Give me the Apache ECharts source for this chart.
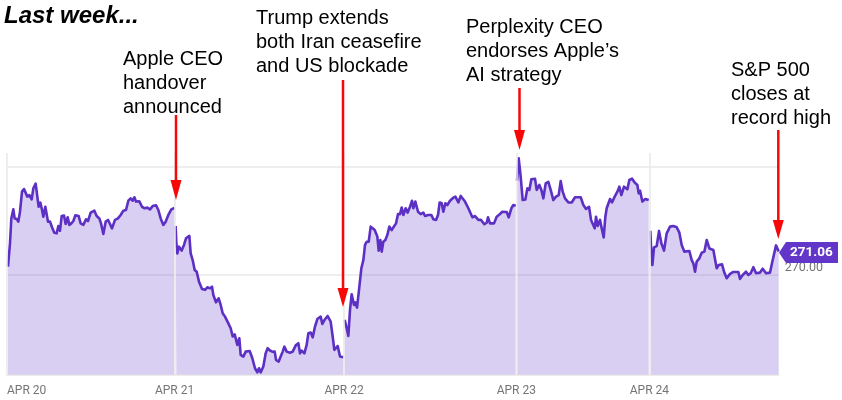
<!DOCTYPE html>
<html><head><meta charset="utf-8">
<style>html,body{margin:0;padding:0;background:#fff}#c{width:842px;height:400px}</style>
<script src="https://cdn.jsdelivr.net/npm/echarts@6/dist/echarts.min.js"></script>
</head><body><div id="c"></div>
<script>
// Time position within the week (arbitrary session units), price in USD. null marks the overnight gaps.
const sessionTime=[24,30,34,40,44,50,55,60,66,72,77,82,88,95,100,107,112,116,121,125,130,136,140,144,150,156,163,170,175,180,185,192,197,203,208,214,220,226,236,242,250,258,264,272,283,290,298,303,310,317,324,330,336,345,354,362,370,378,385,392,398,403,408,418,426,434,442,450,458,468,475,482,490,497,505,514,523,525,
527,529,532,537,545,552,558,568,572,578,584,590,597,606,615,622,630,636,640,648,656,662,668,675,684,692,698,704,712,718,722,730,737,749,757,765,772,777,782,790,797,803,810,818,824,828,836,842,848,853,860,870,878,888,895,900,905,913,920,925,932,938,945,952,962,967,975,983,992,998,1003,1013,1020,1030,1032,
1034,1040,1045,1050,1055,1062,1066,1071,1077,1084,1090,1095,1100,1106,1112,1117,1124,1132,1136,1141,1145,1150,1156,1162,1168,1175,1188,1194,1200,1205,1210,1217,1223,1230,1236,1240,1246,1254,1262,1270,1275,1285,1294,1300,1308,1314,1319,1325,1330,1336,1342,1350,1360,1366,1375,1382,1387,1395,1405,1417,1425,1435,1443,1453,1460,1464,1470,1482,1490,1500,1506,1520,1526,1534,1540,1547,1549,
1551,1556,1562,1568,1576,1582,1588,1594,1605,1610,1618,1624,1630,1637,1645,1652,1660,1668,1676,1682,1688,1695,1705,1715,1725,1735,1742,1750,1758,1767,1773,1778,1784,1788,1793,1800,1805,1811,1816,1820,1830,1836,1844,1852,1858,1864,1872,1882,1888,1896,1904,1912,1916,1920,1927,1936,1946,1948,
1951,1953,1957,1962,1970,1977,1984,1992,2000,2010,2020,2030,2038,2045,2053,2058,2068,2075,2080,2085,2090,2098,2105,2113,2120,2128,2140,2150,2156,2166,2172,2180,2185,2190,2200,2215,2220,2228,2238,2245,2252,2260,2268,2280,2288,2298,2310,2317,2328,2336];
const prices=[270.36,271.44,272.59,273.01,272.59,272.56,272.44,272.90,273.83,273.95,273.95,273.60,273.67,273.47,273.98,274.20,273.60,273.13,273.32,273.06,272.67,273.13,273.18,272.44,272.44,272.18,271.93,271.90,272.24,272.02,272.70,272.72,272.33,272.64,272.29,272.36,272.47,272.73,272.70,272.36,272.29,272.55,272.47,272.86,272.95,272.70,272.59,272.36,271.87,272.44,272.52,272.33,272.13,272.52,272.59,272.75,272.95,272.98,273.41,273.52,273.41,273.57,273.37,273.38,273.13,273.06,273.09,273.01,273.16,273.20,272.98,272.59,272.29,272.44,272.75,273.01,273.07,null,
272.24,271.44,270.97,271.28,271.10,271.36,271.67,271.78,270.97,270.66,270.20,270.12,269.66,269.32,269.28,269.40,269.35,269.43,269.04,268.70,268.89,268.58,268.20,268.04,267.76,267.50,267.12,267.22,266.73,267.04,266.27,266.19,266.42,266.45,266.11,265.65,265.46,265.65,265.46,265.73,266.34,266.58,266.47,266.41,266.42,266.04,265.96,266.19,266.42,266.65,266.42,266.37,266.42,266.73,266.81,266.34,266.47,266.34,266.73,267.27,267.30,267.08,267.58,267.93,268.04,267.70,267.92,268.07,267.81,267.12,266.50,266.68,266.19,266.16,null,
267.89,267.50,267.15,268.35,269.08,268.58,268.70,268.46,269.28,270.28,270.66,271.36,271.51,271.51,272.21,272.29,272.05,271.75,271.10,271.59,271.05,271.51,271.59,271.82,272.21,272.05,272.36,272.79,272.79,273.09,272.75,273.06,272.86,273.13,273.41,273.06,273.37,272.90,272.79,272.86,272.70,272.75,272.75,272.55,272.52,272.75,273.33,273.29,272.90,273.29,273.21,273.41,273.55,273.60,273.33,273.63,273.63,273.37,273.06,272.64,272.70,272.52,272.52,272.32,272.39,272.64,272.36,272.36,272.67,272.79,272.90,272.89,272.64,273.06,273.21,273.18,null,
274.34,275.37,274.52,273.44,273.47,273.98,273.91,274.40,274.43,273.91,274.14,273.91,273.52,274.21,274.28,273.91,273.44,273.60,273.67,274.32,273.83,273.52,273.33,273.33,273.57,273.57,273.57,273.21,273.03,273.13,272.52,272.44,272.13,272.67,272.24,272.52,272.13,271.71,272.67,273.06,273.49,273.33,273.60,273.83,274.06,273.67,274.06,273.94,274.37,274.43,274.25,274.14,273.75,273.87,273.37,273.49,273.44,null,
272.02,271.28,270.43,271.25,271.31,272.01,271.44,271.10,271.90,272.21,272.24,272.18,271.93,271.36,271.05,271.13,271.08,270.66,270.51,270.12,270.59,270.74,271.00,271.05,271.59,271.20,271.13,270.28,270.43,270.46,270.12,269.82,269.77,270.02,270.11,270.11,269.79,269.97,270.12,269.97,270.05,270.33,270.05,270.08,270.26,270.05,270.08,270.59,271.34,271.06];
const dayStarts=[21,523.5,1032,1549,1948];
const dayLabels=['APR 20','APR 21','APR 22','APR 23','APR 24'];
const priceGrid=[270,275];
const priceLabels=[270];
const lastPriceLabel='271.06';
const title='Last week...';
const notes=['Apple CEO\nhandover\nannounced','Trump extends\nboth Iran ceasefire\nand US blockade','Perplexity CEO\nendorses Apple’s\nAI strategy','S&P 500\ncloses at\nrecord high'];

const PURPLE='#5c30c4', GRID='#e8e8e8', SANS='"Liberation Sans",Arial,sans-serif';
const noteText=(s,x,y)=>({type:'text',left:x,top:y,z:20,style:{text:s,font:'20px '+SANS,lineHeight:23.6,fill:'#000'}});
const arrow=(x,y0,yHead,tip,hw)=>[
 {type:'line',z:20,shape:{x1:x,y1:y0,x2:x,y2:yHead+1},style:{stroke:'#f60808',lineWidth:2.5}},
 {type:'polygon',z:20,shape:{points:[[x-hw,yHead],[x+hw,yHead],[x,tip]]},style:{fill:'#f60808'}}
];
const chart=echarts.init(document.getElementById('c'),null,{renderer:'canvas'});
chart.setOption({
 animation:false,
 grid:{left:7,right:842-778.7,top:153,bottom:400-374.5},
 xAxis:{type:'value',min:21,max:2336,splitLine:{show:false},
  axisLine:{show:true,lineStyle:{color:GRID,width:1.5}},axisTick:{show:false},
  axisLabel:{customValues:dayStarts,alignMinLabel:'left',margin:10,color:'#757575',fontFamily:'Roboto',fontSize:12,
   formatter:v=>dayLabels[dayStarts.indexOf(v)]||''}},
 yAxis:{type:'value',position:'right',min:265.36,max:275.62,splitLine:{show:false},
  axisLine:{show:false},axisTick:{show:false},
  axisLabel:{customValues:priceLabels,margin:6,verticalAlign:'bottom',color:'#757575',fontFamily:'Roboto',fontSize:12.5,
   formatter:v=>v.toFixed(2)}},
 series:[
  {type:'line',data:[],silent:true,z:1,
   markLine:{silent:true,z:1,symbol:'none',label:{show:false},lineStyle:{color:GRID,width:1.5,type:'solid'},
    data:priceGrid.map(v=>({yAxis:v}))}},
  {type:'line',data:sessionTime.map((t,i)=>[t,prices[i]]),connectNulls:false,showSymbol:false,symbol:'none',z:3,
   lineStyle:{color:PURPLE,width:2.6,join:'round'},areaStyle:{color:'rgba(104,62,205,0.25)',opacity:1}},
  {type:'line',data:[],silent:true,z:4,
   markLine:{silent:true,z:4,symbol:'none',label:{show:false},lineStyle:{color:GRID,width:1.5,type:'solid'},
    data:dayStarts.map(v=>({xAxis:v}))}}
 ],
 graphic:[
  {type:'text',left:4,top:4,z:20,style:{text:title,font:'italic bold 24px '+SANS,fill:'#000'}},
  noteText(notes[0],123,48),noteText(notes[1],256,7),noteText(notes[2],466,16),noteText(notes[3],731,59),
  ...arrow(176,115,180,200,5.5),...arrow(343,80,288,307,5.5),...arrow(519.5,88,130,150,5.5),...arrow(778.3,130,220,239,5.5),
  {type:'polygon',z:25,shape:{points:[[779,252.7],[786,242],[838,242],[838,263],[786,263]]},style:{fill:'#6236c8'}},
  {type:'text',left:790,top:245.5,z:26,style:{text:lastPriceLabel,font:'bold 13.5px Roboto',fill:'#fff'}}
 ]
});
</script></body></html>
